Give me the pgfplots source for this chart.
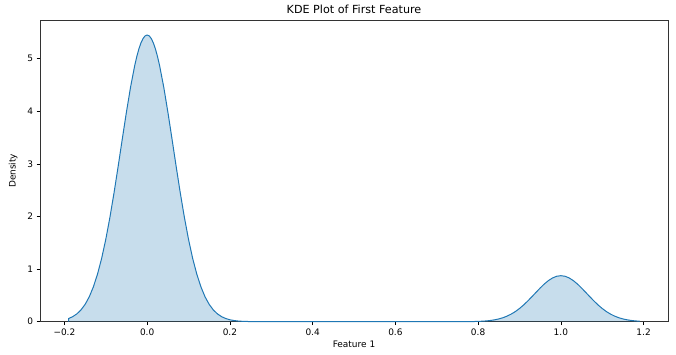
\documentclass[border=0pt]{standalone}
\usepackage{fontspec}
\setmainfont{DejaVu Sans}
\usepackage{pgfplots}
\pgfplotsset{compat=1.18}
\definecolor{mplblue}{HTML}{1F77B4}
\begin{document}
\begin{tikzpicture}[x=1bp,y=1bp]
\path[use as bounding box] (0,0) rectangle (676,354);
\begin{axis}[
  at={(40bp,32.3bp)}, anchor=south west,
  scale only axis, width=628bp, height=301.7bp,
  xmin=-0.259, xmax=1.259, ymin=0, ymax=5.735,
  xtick={-0.2,0,0.2,0.4,0.6,0.8,1.0,1.2},
  xticklabels={−0.2,0.0,0.2,0.4,0.6,0.8,1.0,1.2},
  ytick={0,1,2,3,4,5},
  yticklabels={0,1,2,3,4,5},
  tick style={black, line width=0.6pt},
  tick align=outside, major tick length=3.5bp,
  xtick pos=bottom, ytick pos=left,
  axis line style={black!80, line width=0.6pt},
  tick label style={font=\fontsize{9}{10}\selectfont},
  xlabel={Feature 1}, ylabel={Density},
  label style={font=\fontsize{9}{10}\selectfont},
  xlabel style={at={(axis description cs:0.5,0)}, anchor=north, yshift=-16bp},
  ylabel style={at={(axis description cs:0,0.5)}, anchor=south, yshift=19bp},
  title={KDE Plot of First Feature},
  title style={font=\fontsize{11.2}{13}\selectfont, yshift=-3bp},
  clip=false,
]
\addplot[draw=mplblue, line width=1pt, line join=round, fill=mplblue, fill opacity=0.25, draw opacity=1] coordinates {
(-0.19,0) (-0.19,0.0603) (-0.18,0.0956) (-0.17,0.148) (-0.16,0.223) (-0.15,0.329)
(-0.14,0.472) (-0.13,0.662) (-0.12,0.904) (-0.11,1.204) (-0.10,1.565)
(-0.09,1.984) (-0.08,2.452) (-0.07,2.957) (-0.06,3.478) (-0.05,3.989)
(-0.04,4.464) (-0.03,4.871) (-0.025,5.041) (-0.02,5.185) (-0.015,5.299) (-0.01,5.382) (-0.005,5.433) (0,5.45)
(0.005,5.433) (0.01,5.382) (0.015,5.299) (0.02,5.185) (0.025,5.041) (0.03,4.871) (0.04,4.464) (0.05,3.989)
(0.06,3.478) (0.07,2.957) (0.08,2.452) (0.09,1.984) (0.10,1.565)
(0.11,1.204) (0.12,0.904) (0.13,0.662) (0.14,0.472) (0.15,0.329)
(0.16,0.223) (0.17,0.148) (0.18,0.0956) (0.19,0.0603) (0.20,0.037)
(0.21,0.022) (0.22,0.013) (0.23,0.0074) (0.25,0.0022) (0.28,0.0003) (0.32,0)
(0.68,0) (0.72,0.0001) (0.75,0.00035) (0.77,0.0012) (0.78,0.002) (0.79,0.0035) (0.80,0.006)
(0.81,0.0097) (0.82,0.0153) (0.83,0.0238) (0.84,0.0359) (0.85,0.0528)
(0.86,0.0758) (0.87,0.106) (0.88,0.145) (0.89,0.193) (0.90,0.251)
(0.91,0.318) (0.92,0.394) (0.93,0.475) (0.94,0.558) (0.95,0.6405)
(0.96,0.717) (0.97,0.782) (0.98,0.832) (0.99,0.864) (1.00,0.875)
(1.01,0.864) (1.02,0.832) (1.03,0.782) (1.04,0.717) (1.05,0.6405)
(1.06,0.558) (1.07,0.475) (1.08,0.394) (1.09,0.318) (1.10,0.251)
(1.11,0.193) (1.12,0.145) (1.13,0.106) (1.14,0.0758) (1.15,0.0528)
(1.16,0.0359) (1.17,0.0238) (1.18,0.0153) (1.19,0.0097) (1.19,0)
};
\end{axis}
\end{tikzpicture}
\end{document}
